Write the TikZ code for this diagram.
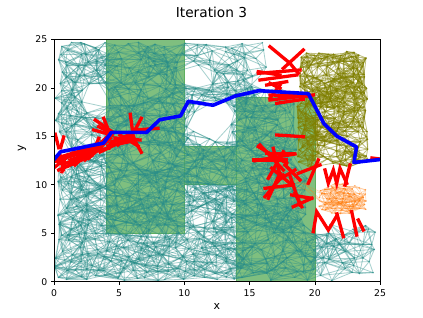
\documentclass[tikz,border=0pt]{standalone}
\usepackage{fontspec}
\setmainfont{DejaVu Sans}
\definecolor{tealc}{HTML}{2A8F8A}
\definecolor{olivec}{HTML}{808000}
\definecolor{orangec}{HTML}{FF7F0E}
\definecolor{greenfill}{HTML}{7FBF7F}
\definecolor{greenedge}{HTML}{5FAF5F}
\tikzset{
  tealedge/.style={draw=tealc, line width=0.8pt, opacity=0.42},
  tealdot/.style={fill=tealc, opacity=0.7},
  oliveedge/.style={draw=olivec, line width=0.8pt, opacity=0.5},
  olivedot/.style={fill=olivec, opacity=0.8},
  orangeedge/.style={draw=orangec, line width=0.55pt, opacity=0.33},
  orangedot/.style={fill=orangec, opacity=0.5},
  obst/.style={fill=greenfill, draw=greenedge, line width=0.5pt},
  failedge/.style={draw=red, line width=3.3pt, line cap=rect},
  pathline/.style={draw=blue, line width=3.6pt, line join=round, line cap=rect},
  axframe/.style={draw=black, line width=0.55pt},
  tickmark/.style={draw=black, line width=0.55pt},
  ticklab/.style={font=\fontsize{9.3}{10}\selectfont, inner sep=0pt},
}
% #1 prefix, #2 x0, #3 y0, #4 imax, #5 jmax, #6 spacing, #7 test, #8 dot style
\newcommand\mkpts[8]{%
  \foreach \i in {0,...,#4}{%
    \foreach \j in {0,...,#5}{%
      \pgfmathsetmacro\cx{#2+(\i+0.5)*#6}%
      \pgfmathsetmacro\cy{#3+(\j+0.5)*#6}%
      #7%
      \ifnum\keep=1
        \pgfmathsetmacro\px{\cx+0.85*(rnd-0.5)*#6}%
        \pgfmathsetmacro\py{\cy+0.85*(rnd-0.5)*#6}%
        \coordinate (#1-\i-\j) at (\px,\py);
        \fill[#8] (#1-\i-\j) circle (0.8pt);
        \expandafter\xdef\csname ok-#1-\i-\j\endcsname{1}%
      \fi
    }%
  }%
}
% #1 prefix, #2 imax, #3 jmax, #4 neighbour list, #5 keep prob, #6 style
\newcommand\mkedges[6]{%
  \foreach \i in {0,...,#2}{%
    \foreach \j in {0,...,#3}{%
      \ifcsname ok-#1-\i-\j\endcsname
        \foreach \di/\dj in {#4}{%
          \edef\ii{\the\numexpr\i+\di\relax}%
          \edef\jj{\the\numexpr\j+\dj\relax}%
          \ifcsname ok-#1-\ii-\jj\endcsname
            \pgfmathsetmacro\rr{rnd}%
            \ifdim\rr pt<#5pt
              \draw[#6] (#1-\i-\j) -- (#1-\ii-\jj);
            \fi
          \fi
        }%
      \fi
    }%
  }%
}
\newcommand\tealtest{%
  \def\keep{1}%
  \pgfmathtruncatemacro\tst{(\cx>25.05)||(\cy>24.75)||((\cx>19.8)&&(\cy>6.3))||((\cx>18.4)&&(\cy>11.4))||((\cx>16.6)&&(\cy>20.2))||(veclen((\cx-12.1)/1.5,(\cy-16.4)/1.7)<1)||(veclen((\cx-11.3)/0.8,(\cy-20.8)/0.9)<1)||(veclen((\cx-3.3)/0.75,(\cy-18.7)/1.3)<1)}%
  \ifnum\tst=1 \def\keep{0}\fi
  \pgfmathsetmacro\pdrop{((\cx>10)&&(\cy>19)) ? 0.25 : ((\cx>19.8) ? 0.4 : 0.07)}%
  \pgfmathtruncatemacro\tst{rnd<\pdrop}%
  \ifnum\tst=1 \def\keep{0}\fi
}
\newcommand\olivetest{%
  \pgfmathtruncatemacro\tst{(rnd<0.13)||(veclen((\cx-21.4)/2.9,(\cy-17.9)/6.1)>1.25)}%
  \ifnum\tst=1 \def\keep{0}\else\def\keep{1}\fi
}
\newcommand\orangetest{%
  \pgfmathtruncatemacro\tst{veclen((\cx-22.1)/2.1,(\cy-8.5)/1.8)<1}%
  \ifnum\tst=1 \def\keep{1}\else\def\keep{0}\fi
}
\begin{document}
\begin{tikzpicture}[x=1pt,y=1pt]
\useasboundingbox (0,0) rectangle (423,317);
\fill[white] (0,0) rectangle (423,317);
\pgfmathsetseed{12}
\begin{scope}[shift={(54pt,35.3pt)}, x=13.04pt, y=9.696pt]
  \clip (0,0) rectangle (25,25);
  % regions
  \path[obst] (4,5) rectangle (10,25);
  \path[obst] (10,10) rectangle (14,14);
  \path[obst] (14,0) rectangle (20,19);
  % teal roadmap
  \mkpts{t}{0}{0}{33}{33}{0.75}{\tealtest}{tealdot}
  \mkedges{t}{33}{33}{1/0,0/1,1/1,1/-1}{0.9}{tealedge}
  \mkedges{t}{33}{33}{2/0,0/2,2/1,1/2,2/-1,1/-2}{0.6}{tealedge}
  \mkedges{t}{33}{33}{2/2,2/-2,3/0,0/3,3/1,1/3,3/-1,1/-3}{0.2}{tealedge}
  % olive roadmap
  \mkpts{o}{18.6}{11.8}{10}{23}{0.5}{\olivetest}{olivedot}
  \mkedges{o}{10}{23}{1/0,0/1,1/1,1/-1}{0.9}{oliveedge}
  \mkedges{o}{10}{23}{2/0,0/2,2/1,1/2,2/-1,1/-2}{0.6}{oliveedge}
  \mkedges{o}{10}{23}{2/2,2/-2,3/0,0/3,3/1,1/3,3/-1,1/-3}{0.3}{oliveedge}
  % orange roadmap
  \mkpts{r}{19.8}{6.4}{10}{9}{0.42}{\orangetest}{orangedot}
  \mkedges{r}{10}{9}{1/0,0/1,1/1,1/-1,2/0,0/2,2/1,1/2,2/-1,1/-2}{0.45}{orangeedge}
  \mkedges{r}{10}{9}{2/2,2/-2,3/0,0/3,3/1,1/3,3/-1,1/-3,4/0,4/1,4/-1,3/2,3/-2,2/3,2/-3,5/0,5/1,5/-1}{0.16}{orangeedge}
  \coordinate (rx1) at (18.3,10.6);
  \coordinate (rx2) at (19.2,10.2);
  \coordinate (rx3) at (17.6,10.0);
  \draw[orangeedge] (rx1) -- (r-1-4);
  \draw[orangeedge] (rx1) -- (r-2-6);
  \draw[orangeedge] (rx2) -- (r-2-3);
  \draw[orangeedge] (rx2) -- (r-1-4);
  \draw[orangeedge] (rx3) -- (r-2-6);
  \draw[orangeedge] (rx3) -- (rx2);
\end{scope}
% failed (red) edges, in pixel coordinates
\begin{scope}[x=1pt,y=-1pt,shift={(0pt,317pt)}]
  \clip (54,39.3) rectangle (380,281.7);
  % left cluster
  \draw[failedge] (55.3,134.3) -- (58.7,147.7);
  \draw[failedge] (63.7,137) -- (60.7,147.7);
  \draw[failedge] (53.7,161.7) -- (85.3,151.7);
  \draw[failedge] (55.3,166.7) -- (72,153.3);
  \draw[failedge] (58.7,170) -- (82,160);
  \draw[failedge] (62,171.7) -- (65.3,156);
  \draw[failedge] (52,158.3) -- (66,166);
  \draw[failedge] (65.3,163.3) -- (92,155);
  \draw[failedge] (57,158) -- (96,146);
  \draw[failedge] (70,160) -- (100,150);
  \draw[failedge] (75,165) -- (95,145);
  \draw[failedge] (88.7,158.3) -- (110.3,138.3);
  \draw[failedge] (92,155) -- (98.7,138.3);
  \draw[failedge] (85.3,151.7) -- (108.7,148.3);
  \draw[failedge] (95.3,148.3) -- (112,131.7);
  \draw[failedge] (80,150) -- (105,142);
  \draw[failedge] (95.3,120) -- (112,131.7);
  \draw[failedge] (98.7,126.7) -- (112,133.3);
  \draw[failedge] (103.7,118.3) -- (109.3,132.3);
  \draw[failedge] (93.7,130) -- (112,135);
  \draw[failedge] (112,141.7) -- (133.7,136.7);
  \draw[failedge] (110.3,143.3) -- (132,133.3);
  \draw[failedge] (115,138) -- (140,140);
  \draw[failedge] (118,145) -- (135,132);
  \draw[failedge] (130.3,114.3) -- (132.7,132.3);
  \draw[failedge] (141.3,118.3) -- (133.7,132.3);
  \draw[failedge] (132.7,136.7) -- (141.3,152.3);
  \draw[failedge] (135.3,130) -- (158,128.3);
  \draw[failedge] (100,152) -- (125,140);
  \draw[failedge] (85,160) -- (95,152);
  \draw[failedge] (60,155) -- (63.3,170);
  \draw[failedge] (68,166) -- (90,148);
  \draw[failedge] (108,146) -- (128,142);
  \draw[failedge] (120,135) -- (138,146);
  % top-right cluster
  \draw[failedge] (270,46.7) -- (290,63.3) -- (298.3,73.3);
  \draw[failedge] (303.3,50) -- (283.3,68.3);
  \draw[failedge] (258.3,73.3) -- (300,70);
  \draw[failedge] (260,80) -- (296.7,75);
  \draw[failedge] (266.7,85) -- (286.7,81.7);
  \draw[failedge] (280,85) -- (270,98.3);
  \draw[failedge] (258.3,71.7) -- (280,75);
  \draw[failedge] (270,83.3) -- (280,88.3);
  \draw[failedge] (270,95) -- (308.3,96);
  \draw[failedge] (280,98.3) -- (306.7,94);
  \draw[failedge] (276.7,103.3) -- (303.3,99.3);
  \draw[failedge] (270,100) -- (313.3,95);
  \draw[failedge] (276.7,135) -- (303.3,136.7);
  % middle-right cluster
  \draw[failedge] (258.3,146.7) -- (286.7,163.3);
  \draw[failedge] (255,160.7) -- (295,154);
  \draw[failedge] (273.3,148.3) -- (280,175);
  \draw[failedge] (283.3,151.7) -- (268.3,178.3);
  \draw[failedge] (265,188.3) -- (293.3,185);
  \draw[failedge] (268.3,198.3) -- (280,173.3);
  \draw[failedge] (278.3,180) -- (295,170);
  \draw[failedge] (298.3,173.3) -- (320,165);
  \draw[failedge] (318.3,160) -- (308.3,183.3);
  \draw[failedge] (291.7,195) -- (311.7,198.3);
  \draw[failedge] (293.3,206.7) -- (311.7,198.3);
  \draw[failedge] (295,193.3) -- (301.7,206.7);
  \draw[failedge] (253.3,160) -- (286.7,160);
  \draw[failedge] (260,145) -- (283.3,170);
  \draw[failedge] (266.7,153.3) -- (293.3,153.3);
  \draw[failedge] (265,196.7) -- (283.3,175);
  \draw[failedge] (271.7,168.3) -- (290,183.3);
  \draw[failedge] (285,165) -- (300,180);
  \draw[failedge] (290,176) -- (300,205);
  \draw[failedge] (325,170) -- (328.3,183.3) -- (333.3,170) -- (336.7,183.3) -- (340,168.3) -- (346.7,183.3);
  \draw[failedge] (350,165) -- (345,185);
  \draw[failedge] (313.3,231.7) -- (316.7,211.7) -- (328.3,230) -- (336.7,216);
  \draw[failedge] (337,214) -- (343.3,236.7);
  \draw[failedge] (351.7,211.7) -- (356.7,235);
  \draw[failedge] (358.3,220) -- (363.3,230);
  \draw[failedge] (372,158) -- (380,159);
\end{scope}
% final path
\begin{scope}[shift={(54pt,35.3pt)}, x=13.04pt, y=9.696pt]
  \clip (0,0) rectangle (25,25);
  \coordinate (s0) at (0,12.6);
  \coordinate (g0) at (25,12.6);
  \draw[pathline] (s0) -- (0.5,13.4) -- (3.8,14.3) -- (4.4,15.4) -- (7.1,15.4) -- (8.1,16.7) -- (9.7,17.1) -- (10.3,18.6) -- (12.2,18.2) -- (13.9,19.15) -- (15.7,19.7) -- (19.5,19.4) -- (20.7,16.3) -- (21.7,15.0) -- (23.2,13.9) -- (23.0,12.3) -- (g0);
\end{scope}
% axes frame
\draw[axframe] (54,35.3) rectangle (380,277.7);
\foreach \k in {0,...,5}{
  \pgfmathsetmacro\tx{54+65.2*\k}
  \pgfmathtruncatemacro\lab{5*\k}
  \draw[tickmark] (\tx,35.3) -- (\tx,32.1);
  \node[ticklab, anchor=base] at (\tx,21) {\lab};
  \pgfmathsetmacro\ty{35.3+48.48*\k}
  \draw[tickmark] (54,\ty) -- (50.8,\ty);
  \node[ticklab, anchor=east] at (47.5,\ty) {\lab};
}
\node[font=\fontsize{11}{12}\selectfont, inner sep=0pt] (xl) at (217,11) {x};
\node[font=\fontsize{11}{12}\selectfont, inner sep=0pt, rotate=90] (yl) at (22,169) {y};
\node[font=\fontsize{13.7}{16}\selectfont, inner sep=0pt, anchor=base] (ttl) at (211.5,299.7) {Iteration 3};
\end{tikzpicture}
\end{document}
